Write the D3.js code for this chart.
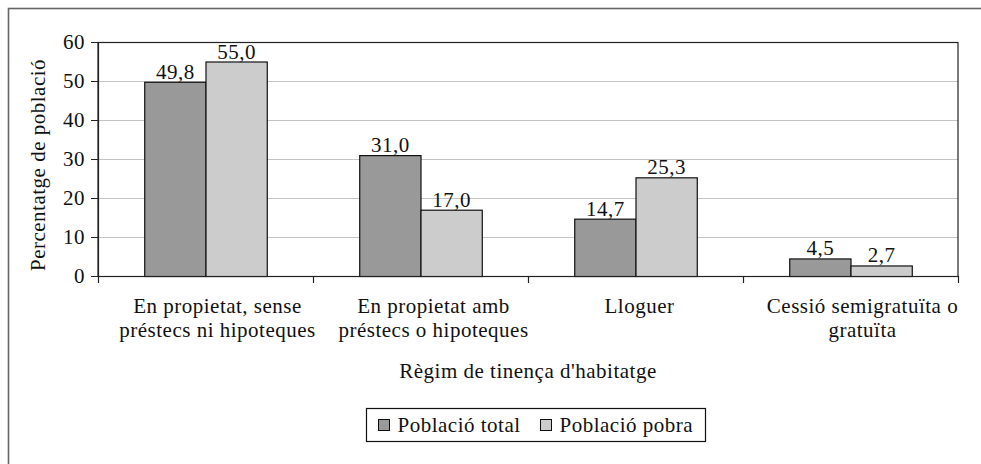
<!DOCTYPE html>
<html>
<head>
<meta charset="utf-8">
<script src="https://cdn.jsdelivr.net/npm/d3@7"></script>
<style>
  body { margin: 0; background: #fff; }
  svg text { font-family: "Liberation Serif", "DejaVu Serif", serif; fill: #111; letter-spacing: 0.5px; }
</style>
</head>
<body>
<svg id="chart" width="981" height="464"></svg>
<script>
// Data
const categories = [
    ['En propietat, sense', 'préstecs ni hipoteques'],
    ['En propietat amb', 'préstecs o hipoteques'],
    ['Lloguer'],
    ['Cessió semigratuïta o', 'gratuïta']
];
const seriesNames = ['Població total', 'Població pobra'];
const totalValues = [49.8, 31.0, 14.7, 4.5];
const pobraValues = [55.0, 17.0, 25.3, 2.7];
const yTicks = [0, 10, 20, 30, 40, 50, 60];
const colors = ['#999999', '#cccccc'];

const fontSize = 21;
// category labels sit slightly right of the band centre in the original
const labelShift = [12, 13, 4, 12];

const svg = d3.select('#chart');
const margin = { top: 42, right: 23, bottom: 188, left: 98 };
const width = 981 - margin.left - margin.right;
const height = 464 - margin.top - margin.bottom;

// outer frame
svg.append('rect')
    .attr('x', 8.5).attr('y', 8.5)
    .attr('width', 990).attr('height', 480)
    .attr('fill', 'none')
    .attr('stroke', '#666').attr('stroke-width', 1.6);

const g = svg.append('g').attr('transform', `translate(${margin.left},${margin.top})`);

const idx = d3.range(categories.length);
const x0 = d3.scaleBand().domain(idx).range([0, width]).padding(0);
const x1 = d3.scaleBand().domain([0, 1])
    .range([x0.bandwidth() * 0.215, x0.bandwidth() * 0.785]).padding(0);
const y = d3.scaleLinear().domain([0, 60]).range([height, 0]);

// gridlines
g.append('g')
    .selectAll('line')
    .data(yTicks.filter(t => t > 0))
    .enter().append('line')
    .attr('x1', 0).attr('x2', width)
    .attr('y1', d => y(d) + 0.5).attr('y2', d => y(d) + 0.5)
    .attr('stroke', '#c4c4c4');

// plot frame
g.append('rect')
    .attr('x', 0).attr('y', 0.5)
    .attr('width', width).attr('height', height)
    .attr('fill', 'none').attr('stroke', '#222').attr('stroke-width', 1.2);

// bars
const rows = idx.map(i => [totalValues[i], pobraValues[i]]);
const groups = g.selectAll('.grp').data(rows).enter().append('g')
    .attr('transform', (d, i) => `translate(${x0(i)},0)`);

groups.selectAll('rect')
    .data(d => d.map((v, s) => ({ v, s })))
    .enter().append('rect')
    .attr('x', d => x1(d.s) + 0.5)
    .attr('y', d => y(d.v) + 0.5)
    .attr('width', x1.bandwidth())
    .attr('height', d => height - y(d.v))
    .attr('fill', d => colors[d.s])
    .attr('stroke', '#111').attr('stroke-width', 1.2);

groups.selectAll('text')
    .data(d => d.map((v, s) => ({ v, s })))
    .enter().append('text')
    .attr('x', d => x1(d.s) + x1.bandwidth() / 2 + 0.5)
    .attr('y', d => y(d.v) - 3)
    .attr('text-anchor', 'middle')
    .attr('font-size', fontSize)
    .text(d => d.v.toFixed(1).replace('.', ','));

// y axis
const yAxis = g.append('g').call(d3.axisLeft(y).tickValues(yTicks).tickSize(7).tickPadding(6));
yAxis.select('.domain').attr('stroke', '#222').attr('stroke-width', 1.2);
yAxis.selectAll('.tick line').attr('stroke', '#222');
yAxis.selectAll('text').attr('font-size', fontSize).attr('fill', '#111')
    .attr('font-family', '"Liberation Serif", serif');

// x axis
const xAxis = g.append('g').attr('transform', `translate(0,${height})`);
xAxis.append('line').attr('x1', 0).attr('x2', width).attr('y1', 0.5).attr('y2', 0.5)
    .attr('stroke', '#222').attr('stroke-width', 1.2);
xAxis.selectAll('.xt').data(d3.range(categories.length + 1)).enter().append('line')
    .attr('x1', i => (i < categories.length ? x0(i) : width) + 0.5)
    .attr('x2', i => (i < categories.length ? x0(i) : width) + 0.5)
    .attr('y1', 0).attr('y2', 7)
    .attr('stroke', '#222').attr('stroke-width', 1.2);

const labels = xAxis.selectAll('.xl').data(categories).enter().append('text')
    .attr('text-anchor', 'middle')
    .attr('font-size', fontSize)
    .attr('transform', (d, i) => `translate(${x0(i) + x0.bandwidth() / 2 + labelShift[i]},37)`);
labels.selectAll('tspan').data(d => d).enter().append('tspan')
    .attr('x', 0).attr('dy', (d, j) => j === 0 ? 0 : 24)
    .text(d => d);

// axis titles
g.append('text')
    .attr('x', width / 2).attr('y', height + 102)
    .attr('text-anchor', 'middle').attr('font-size', fontSize)
    .text("Règim de tinença d'habitatge");

g.append('text')
    .attr('transform', `translate(-53,123) rotate(-90)`)
    .attr('text-anchor', 'middle').attr('font-size', fontSize)
    .text('Percentatge de població');

// legend
const legend = svg.append('g').attr('transform', 'translate(366.5,408.5)');
legend.append('rect').attr('width', 339).attr('height', 33)
    .attr('fill', 'none').attr('stroke', '#111').attr('stroke-width', 1.2);
const lx = [12, 174];
seriesNames.forEach((name, s) => {
    legend.append('rect')
        .attr('x', lx[s]).attr('y', 11).attr('width', 11).attr('height', 11)
        .attr('fill', colors[s]).attr('stroke', '#111');
    legend.append('text')
        .attr('x', lx[s] + 19).attr('y', 23)
        .attr('font-size', fontSize)
        .text(name);
});
</script>
</body>
</html>
